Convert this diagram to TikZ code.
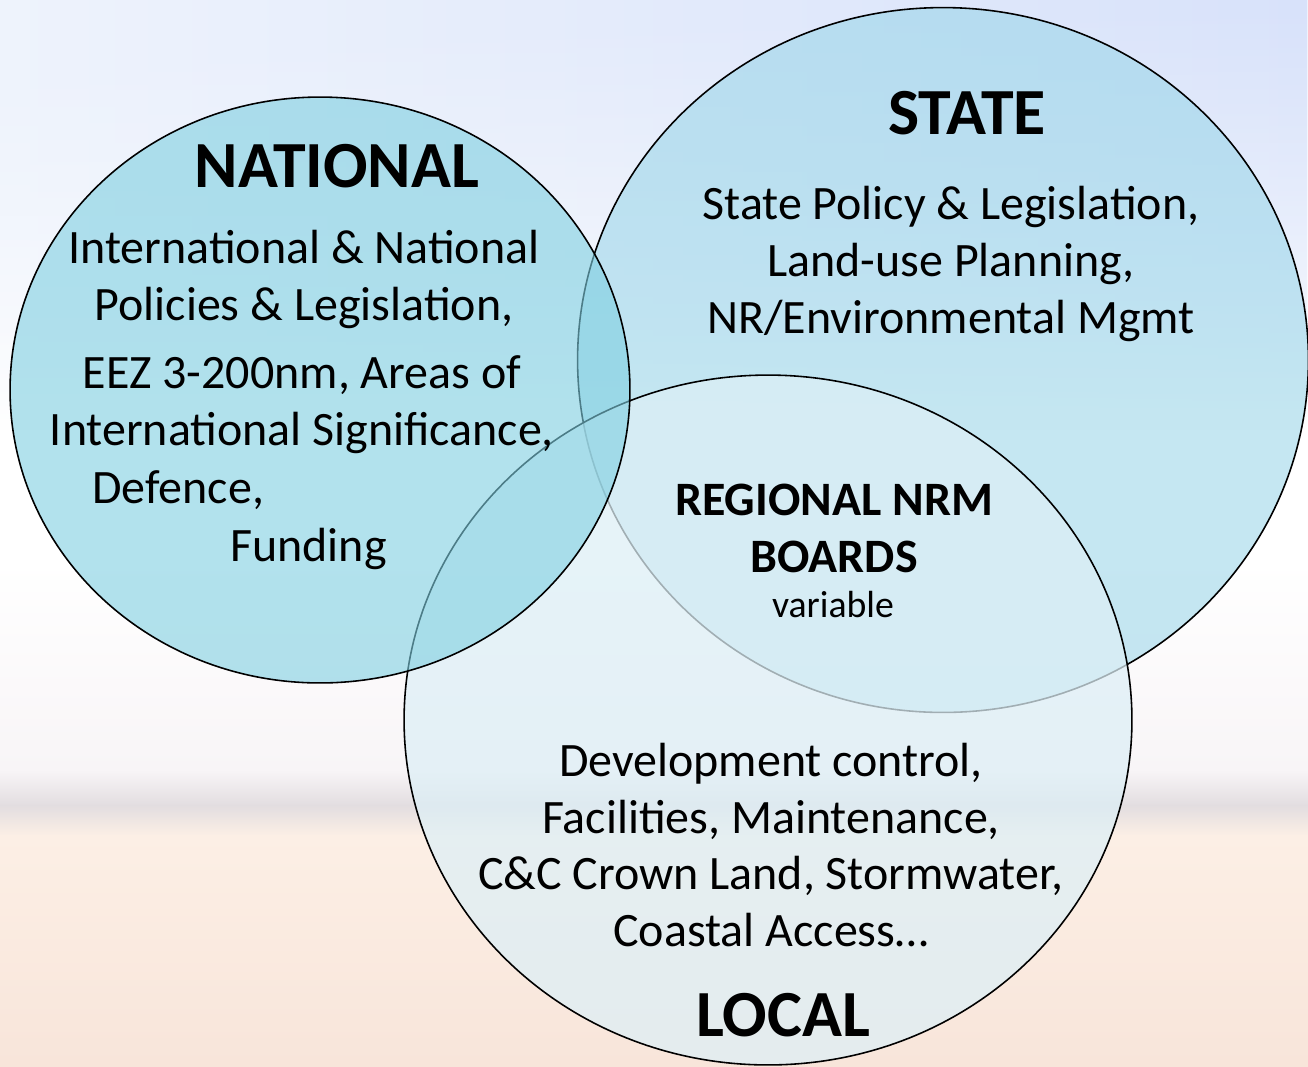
\documentclass[tikz,border=0pt]{standalone}
\usepackage{fontspec}
\setmainfont{Carlito}
\usetikzlibrary{shapes.geometric}
\usetikzlibrary{fadings}
\definecolor{skytop}{RGB}{238,243,252}
\definecolor{skyright}{RGB}{216,226,250}
\definecolor{hazepink}{RGB}{248,245,247}
\definecolor{shoregray}{RGB}{226,221,224}
\definecolor{sandtop}{RGB}{252,239,229}
\definecolor{sandbot}{RGB}{248,229,218}
\definecolor{statefill}{RGB}{150,212,232}
\definecolor{localfill}{RGB}{221,239,246}
\definecolor{natfill}{RGB}{127,207,225}

\begin{document}
\begin{tikzpicture}[x=0.02cm, y=-0.02cm, ring/.style={ellipse, draw=black, line width=0.9pt, inner sep=0pt}]
\tikzstyle{title}=[font=\fontsize{37.5}{42}\selectfont\bfseries, inner sep=0pt, anchor=base]
\tikzstyle{body}=[font=\fontsize{27.3}{32.4}\selectfont, align=center, inner sep=0pt]

% Background
\useasboundingbox (0,0) rectangle (1308,1066);
\shade[top color=skytop, bottom color=white] (0,0) rectangle (1308,431);
\shade[left color=skytop, right color=skyright, path fading=south] (0,0) rectangle (1308,431);
\fill[white] (0,430) rectangle (1308,561);
\shade[top color=white, bottom color=hazepink] (0,560) rectangle (1308,771);
\shade[top color=hazepink, bottom color=shoregray] (0,770) rectangle (1308,806);
\shade[top color=shoregray, bottom color=sandtop] (0,805) rectangle (1308,836);
\shade[top color=sandtop, bottom color=sandbot] (0,835) rectangle (1308,1066);

% Draw the three circles
\node[ring, fill=statefill, fill opacity=0.55, minimum width=14.62cm, minimum height=14.1cm] (state) at (943,360) {};
\node[ring, fill=localfill, fill opacity=0.73, minimum width=14.56cm, minimum height=13.8cm] (local) at (768,720) {};
\node[ring, fill=natfill, fill opacity=0.6, minimum width=12.4cm, minimum height=11.72cm] (national) at (320,390) {};

% Titles
\node[title] (natname) at (337,187) {NATIONAL};
\node[title] (statename) at (967,134) {STATE};
\node[title] (localname) at (783,1036) {LOCAL};

% Texts
\node[body] (nat1) at (304,279) {International \& National\\Policies \& Legislation,};
\node[body] (nat2) at (302,405) {EEZ 3-200nm, Areas of\\International Significance,};
\node[body, anchor=base west] (nat3) at (92,503) {Defence,};
\node[body, anchor=base west] (nat4) at (230,561) {Funding};
\node[body] (statetext) at (951,264) {State Policy \& Legislation,\\Land-use Planning,\\NR/Environmental Mgmt};
\node[body, font=\fontsize{27.3}{32.4}\selectfont\bfseries] (nrm) at (834,528) {REGIONAL NRM\\BOARDS};
\node[inner sep=0pt, anchor=base, font=\fontsize{21.5}{24}\selectfont] (nrmnote) at (833,617) {variable};
\node[body] (localtext) at (771,845) {Development control,\\Facilities, Maintenance,\\C\&C Crown Land, Stormwater,\\Coastal Access…};
\end{tikzpicture}
\end{document}
